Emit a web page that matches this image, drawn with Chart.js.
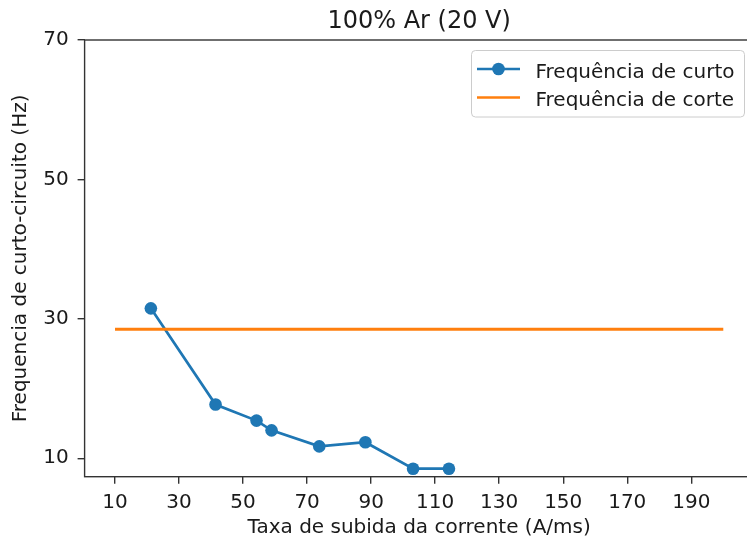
<!DOCTYPE html>
<html>
<head>
<meta charset="utf-8">
<script src="https://cdn.jsdelivr.net/npm/chart.js@4"></script>
<style>
  html, body { margin: 0; padding: 0; background: #fff; overflow: hidden; }
  #wrap { width: 760px; height: 543px; }
</style>
</head>
<body>
<div id="wrap"><canvas id="grafico" width="760" height="543"></canvas></div>
<script>
// datos
const taxaSubida = [21.2, 41.4, 54.2, 58.9, 73.8, 88.2, 103.1, 114.3];
const freqCurto = [31.5, 17.7, 15.4, 14.0, 11.7, 12.3, 8.5, 8.5];
const taxaCorte = [10, 200];
const freqCorte = [28.5, 28.5];
const ticksX = [10, 30, 50, 70, 90, 110, 130, 150, 170, 190];
const ticksY = [10, 30, 50, 70];
const titulo = '100% Ar (20 V)';

const fonte = "'DejaVu Sans'";
const corTexto = '#1a1a1a';
const corEixo = '#333';

//----------------------------------------------------------------------------
// caixa dos eixos (quatro lados) + titulo centrado sobre a area do grafico
const moldura = {
  id: 'moldura',
  afterDatasetsDraw: (chart) => {
    const {ctx, chartArea: a} = chart;
    ctx.save();
    ctx.strokeStyle = corEixo;
    ctx.lineWidth = 1.4;
    ctx.strokeRect(a.left, a.top, a.right - a.left, a.bottom - a.top);
    ctx.fillStyle = corTexto;
    ctx.font = '24px ' + fonte;
    ctx.textAlign = 'center';
    ctx.textBaseline = 'alphabetic';
    ctx.fillText(titulo, (a.left + a.right) / 2, 27.5);
    ctx.restore();
  }
};

// legenda dentro do grafico, canto superior direito
const legenda = {
  id: 'legenda',
  afterDraw: (chart) => {
    const ctx = chart.ctx;
    const ds = chart.data.datasets;
    ctx.save();
    ctx.beginPath();
    ctx.roundRect(471.5, 50.5, 273, 66.5, 4);
    ctx.fillStyle = 'rgba(255,255,255,0.8)';
    ctx.fill();
    ctx.strokeStyle = '#cccccc';
    ctx.lineWidth = 1;
    ctx.stroke();
    const linhas = [69, 97.5];
    const bases = [77.5, 106];
    ds.forEach((d, i) => {
      ctx.strokeStyle = d.borderColor;
      ctx.lineWidth = 2.7;
      ctx.beginPath();
      ctx.moveTo(477, linhas[i]);
      ctx.lineTo(520, linhas[i]);
      ctx.stroke();
      if (d.pointRadius > 0) {
        ctx.fillStyle = d.backgroundColor;
        ctx.beginPath();
        ctx.arc(498.5, linhas[i], 6.3, 0, Math.PI * 2);
        ctx.fill();
      }
      ctx.fillStyle = corTexto;
      ctx.font = '20px ' + fonte;
      ctx.textBaseline = 'alphabetic';
      ctx.textAlign = 'left';
      ctx.fillText(d.label, 535.5, bases[i]);
    });
    ctx.restore();
  }
};

const dadosCurto = {
  label: 'Frequência de curto',
  data: taxaSubida.map((x, i) => ({x: x, y: freqCurto[i]})),
  borderColor: '#1f77b4',
  backgroundColor: '#1f77b4',
  borderWidth: 2.7,
  pointRadius: 6.3,
  pointHoverRadius: 6.3,
  pointBorderWidth: 0,
  showLine: true,
  order: 2,
};
const dadosCorte = {
  label: 'Frequência de corte',
  data: taxaCorte.map((x, i) => ({x: x, y: freqCorte[i]})),
  borderColor: '#ff7f0e',
  backgroundColor: '#ff7f0e',
  borderWidth: 2.9,
  pointRadius: 0,
  showLine: true,
  order: 1,
};

const myChart = new Chart(document.getElementById('grafico'), {
  type: 'scatter',
  data: { datasets: [dadosCurto, dadosCorte] },
  plugins: [moldura, legenda],
  options: {
    responsive: false,
    animation: false,
    devicePixelRatio: 1,
    layout: { padding: { left: 0, right: 5.7, top: 40, bottom: 0 } },
    plugins: {
      legend: { display: false },
      tooltip: { enabled: false },
      title: { display: false },
    },
    scales: {
      x: {
        type: 'linear',
        min: 0.5,
        max: 209.5,
        afterBuildTicks: (s) => { s.ticks = ticksX.map(v => ({value: v})); },
        afterFit: (s) => { s.height = 66.3; },
        border: { display: false },
        grid: { drawOnChartArea: false, drawTicks: true, tickLength: 7, tickColor: corEixo, lineWidth: 1.4 },
        ticks: { color: corTexto, font: { family: fonte, size: 20 }, padding: 7, maxRotation: 0 },
        title: {
          display: true,
          text: 'Taxa de subida da corrente (A/ms)',
          color: corTexto,
          font: { family: fonte, size: 20 },
          padding: { top: 0, bottom: 3 },
        },
      },
      y: {
        type: 'linear',
        min: 7.35,
        max: 70,
        afterBuildTicks: (s) => { s.ticks = ticksY.map(v => ({value: v})); },
        afterFit: (s) => { s.width = 84.6; },
        border: { display: false },
        grid: { drawOnChartArea: false, drawTicks: true, tickLength: 7, tickColor: corEixo, lineWidth: 1.4 },
        ticks: { color: corTexto, font: { family: fonte, size: 20 }, padding: 9 },
        title: {
          display: true,
          text: 'Frequencia de curto-circuito (Hz)',
          color: corTexto,
          font: { family: fonte, size: 20 },
          padding: { top: 9, bottom: 0 },
        },
      },
    },
  },
});
</script>
</body>
</html>
